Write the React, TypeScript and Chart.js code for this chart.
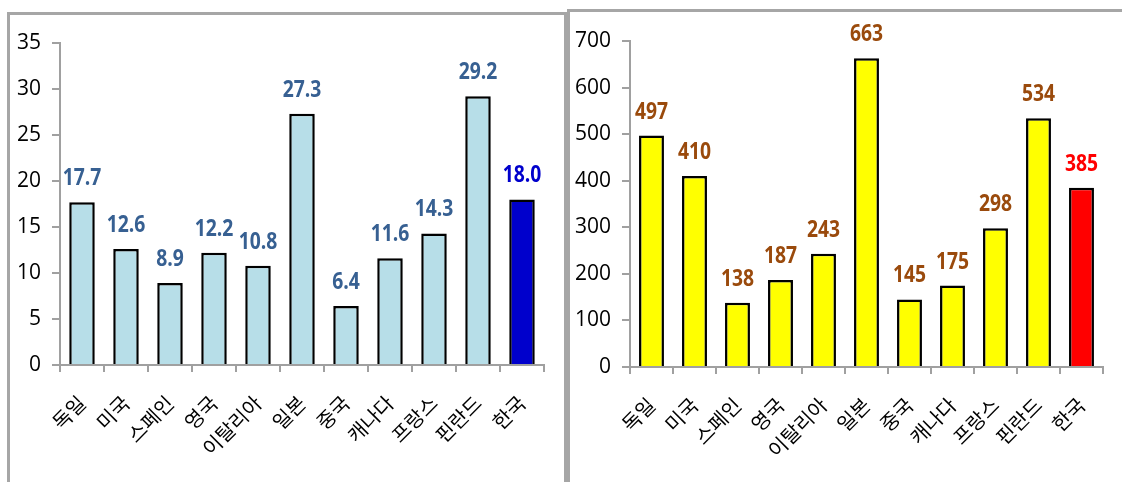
import React, { useEffect, useRef } from "react";
import { Chart, registerables } from "chart.js";

Chart.register(...registerables);

// Countries shown on both panels
const countries = ["독일", "미국", "스페인", "영국", "이탈리아", "일본", "중국", "캐나다", "프랑스", "핀란드", "한국"];

// Left panel values and axis
const leftValues = [17.7, 12.6, 8.9, 12.2, 10.8, 27.3, 6.4, 11.6, 14.3, 29.2, 18.0];
const leftAxisMax = 35;
const leftAxisStep = 5;

// Right panel values and axis
const rightValues = [497, 410, 138, 187, 243, 663, 145, 175, 298, 534, 385];
const rightAxisMax = 700;
const rightAxisStep = 100;

const SANS = "'Open Sans', sans-serif";
const KOREAN = "'Noto Sans CJK KR', sans-serif";
const AXIS_GRAY = "#A0A0A0";

// Draws the value above every bar in a condensed bold face
const valueLabels = {
  id: "valueLabels",
  afterDatasetsDraw(chart: any, _args: any, opts: any) {
    const { ctx } = chart;
    const meta = chart.getDatasetMeta(0);
    const data = chart.data.datasets[0].data as number[];
    ctx.save();
    ctx.font = opts.font;
    ctx.textAlign = "center";
    ctx.textBaseline = "alphabetic";
    meta.data.forEach((bar: any, i: number) => {
      ctx.save();
      ctx.translate(bar.x, bar.y - opts.gap);
      ctx.scale(opts.squeeze, 1);
      ctx.fillStyle = opts.colors[i];
      ctx.fillText(opts.format(data[i]), 0, 0);
      ctx.restore();
    });
    ctx.restore();
  },
};

type PanelProps = {
  values: number[];
  max: number;
  step: number;
  barColors: string[];
  labelColors: string[];
  format: (v: number) => string;
  left: number;
  top: number;
  width: number;
  height: number;
  axisWidth: number;
  axisHeight: number;
  padTop: number;
  padRight: number;
};

function BarPanel(p: PanelProps) {
  const ref = useRef<HTMLCanvasElement | null>(null);

  useEffect(() => {
    if (!ref.current) return;
    const chart = new Chart(ref.current, {
      type: "bar",
      data: {
        labels: countries,
        datasets: [
          {
            data: p.values,
            backgroundColor: p.barColors,
            borderColor: "#000000",
            borderWidth: 2.5,
            barPercentage: 0.58,
            categoryPercentage: 1,
          },
        ],
      },
      options: {
        animation: false,
        responsive: false,
        devicePixelRatio: 1,
        layout: { padding: { top: p.padTop, right: p.padRight, left: 0, bottom: 0 } },
        plugins: {
          legend: { display: false },
          tooltip: { enabled: false },
          valueLabels: {
            font: `bold 23px ${SANS}`,
            colors: p.labelColors,
            format: p.format,
            gap: 17,
            squeeze: 0.84,
          },
        } as any,
        scales: {
          x: {
            afterFit: (s: any) => {
              s.height = p.axisHeight;
            },
            border: { color: AXIS_GRAY, width: 2 },
            grid: {
              offset: true,
              drawOnChartArea: false,
              drawTicks: true,
              tickLength: 7,
              color: AXIS_GRAY,
              lineWidth: 2,
            },
            ticks: {
              minRotation: 45,
              maxRotation: 45,
              autoSkip: false,
              padding: 19,
              color: "#000000",
              font: { family: KOREAN, size: 20 },
            },
          },
          y: {
            min: 0,
            max: p.max,
            afterFit: (s: any) => {
              s.width = p.axisWidth;
            },
            border: { color: AXIS_GRAY, width: 2 },
            grid: {
              drawOnChartArea: false,
              drawTicks: true,
              tickLength: 8,
              color: AXIS_GRAY,
              lineWidth: 2,
            },
            ticks: {
              stepSize: p.step,
              padding: 11,
              color: "#000000",
              font: { family: SANS, size: 21 },
            },
          },
        },
      },
      plugins: [valueLabels],
    });
    return () => chart.destroy();
  }, []);

  return (
    <canvas
      ref={ref}
      width={p.width}
      height={p.height}
      style={{ position: "absolute", left: p.left, top: p.top, width: p.width, height: p.height }}
    />
  );
}

const leftBarColors = countries.map((c) => (c === "한국" ? "#0000CC" : "#B7DEE8"));
const leftLabelColors = countries.map((c) => (c === "한국" ? "#0000CC" : "#376092"));
const rightBarColors = countries.map((c) => (c === "한국" ? "#FF0000" : "#FFFF00"));
const rightLabelColors = countries.map((c) => (c === "한국" ? "#FF0000" : "#9A4A0C"));

export default function App() {
  return (
    <div
      style={{
        position: "fixed",
        left: 0,
        top: 0,
        width: 1122,
        height: 482,
        overflow: "hidden",
        background: "#ffffff",
      }}
    >
      <div
        style={{
          position: "absolute",
          left: 7,
          top: 12,
          width: 560,
          height: 520,
          boxSizing: "border-box",
          border: "3px solid #A6A6A6",
        }}
      />
      <div
        style={{
          position: "absolute",
          left: 567,
          top: 9,
          width: 620,
          height: 520,
          boxSizing: "border-box",
          border: "3px solid #A6A6A6",
        }}
      />
      <BarPanel
        values={leftValues}
        max={leftAxisMax}
        step={leftAxisStep}
        barColors={leftBarColors}
        labelColors={leftLabelColors}
        format={(v) => v.toFixed(1)}
        left={10}
        top={15}
        width={554}
        height={467}
        axisWidth={50}
        axisHeight={117}
        padTop={28}
        padRight={20}
      />
      <BarPanel
        values={rightValues}
        max={rightAxisMax}
        step={rightAxisStep}
        barColors={rightBarColors}
        labelColors={rightLabelColors}
        format={(v) => String(v)}
        left={570}
        top={12}
        width={552}
        height={470}
        axisWidth={60}
        axisHeight={115}
        padTop={29}
        padRight={19}
      />
    </div>
  );
}
